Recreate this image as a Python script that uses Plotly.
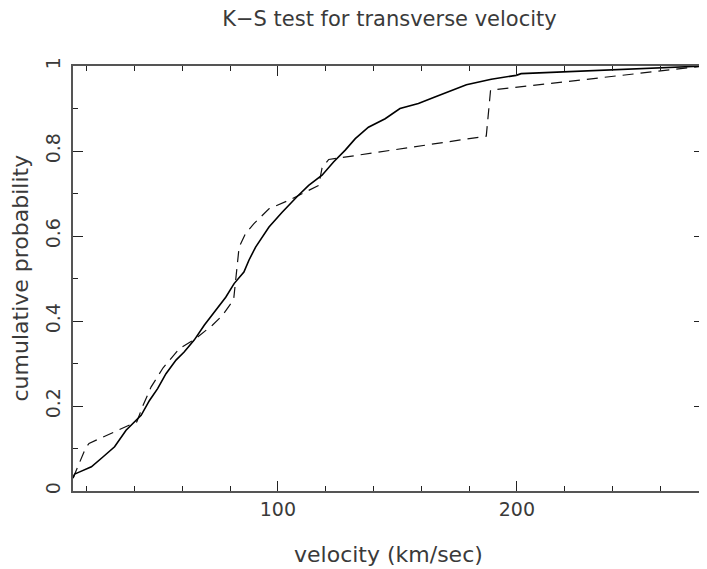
import plotly.graph_objects as go

# Solid curve (empirical cumulative distribution)
solid_v = [14.3, 15.0, 17.1, 22.0, 26.8, 31.7, 36.5, 42.8, 46.3, 49.7, 53.2, 57.4, 60.8,
           65.0, 69.2, 74.0, 78.2, 81.7, 85.8, 87.9, 90.7, 96.3, 101.8, 108.1, 112.9, 118.5,
           123.3, 128.2, 132.4, 137.9, 144.9, 151.1, 158.8, 165.7, 172.6, 178.9, 189.3,
           199.7, 201.8, 219.9, 239.3, 264.3, 278.3]
solid_p = [0.031, 0.040, 0.045, 0.057, 0.080, 0.104, 0.143, 0.178, 0.213, 0.241, 0.276, 0.308, 0.327,
           0.355, 0.390, 0.425, 0.456, 0.488, 0.515, 0.543, 0.574, 0.621, 0.656, 0.693, 0.719, 0.743,
           0.774, 0.802, 0.829, 0.856, 0.876, 0.900, 0.912, 0.927, 0.943, 0.956, 0.969,
           0.978, 0.982, 0.986, 0.991, 0.996, 1.000]

# Dashed curve (comparison distribution)
dashed_v = [14.3, 19.5, 21.0, 38.0, 41.0, 43.5, 47.0, 52.0, 58.8, 65.7, 72.6, 76.8, 80.5,
            81.5, 83.8, 86.5, 90.0, 96.3, 104.6, 117.1, 118.5, 121.3, 187.2, 189.0, 278.3]
dashed_p = [0.030, 0.100, 0.112, 0.155, 0.163, 0.200, 0.245, 0.290, 0.335, 0.359, 0.390, 0.413, 0.440,
            0.450, 0.574, 0.606, 0.629, 0.664, 0.684, 0.719, 0.760, 0.780, 0.835, 0.943, 1.000]

x_range = [14.3, 278.3]
y_range = [0, 1]

fig = go.Figure()
fig.add_trace(go.Scatter(x=dashed_v, y=dashed_p, mode="lines",
                         line=dict(color="#111", width=1.2, dash="11px,7px")))
fig.add_trace(go.Scatter(x=solid_v, y=solid_p, mode="lines",
                         line=dict(color="#000", width=1.6)))

font_family = "DejaVu Sans"
txt_color = "#3a3a3a"

# page body has an 8px margin, so the figure is 8px smaller than the window
W, H = 699, 561
fig.update_layout(
    width=W, height=H,
    margin=dict(l=65, r=1, t=58, b=78),
    paper_bgcolor="white", plot_bgcolor="white",
    showlegend=False,
    font=dict(family=font_family, size=19, color=txt_color),
    title=dict(text="K\u2212S test for transverse velocity", x=(65 + W - 1) / 2 / W, xanchor="center",
               y=1 - 11 / H, yanchor="middle", yref="container",
               font=dict(family=font_family, size=21, color=txt_color)),
)

axis_common = dict(showgrid=False, zeroline=False, showline=True, linecolor="#555", linewidth=1.5,
                   mirror="ticks", ticks="inside", tickcolor="#222", tickwidth=1,
                   tickfont=dict(family=font_family, size=19, color=txt_color))

fig.update_xaxes(range=x_range, tick0=0, dtick=100, ticklen=10,
                 minor=dict(dtick=20, tick0=0, ticklen=5, ticks="inside", tickcolor="#222", tickwidth=1),
                 **axis_common)
fig.update_yaxes(range=y_range, tick0=0, dtick=0.2, ticklen=10, tickangle=-90, ticklabelstandoff=4,
                 minor=dict(dtick=0.1, tick0=0, ticklen=5, ticks="inside", tickcolor="#222", tickwidth=1),
                 **axis_common)

fig.add_annotation(text="velocity (km/sec)", xref="paper", yref="paper", x=0.5, y=0,
                   xanchor="center", yanchor="middle", yshift=-63, showarrow=False,
                   font=dict(family=font_family, size=22, color=txt_color))
fig.add_annotation(text="cumulative probability", xref="paper", yref="paper", x=0, y=0.5,
                   xanchor="center", yanchor="middle", xshift=-53, textangle=-90, showarrow=False,
                   font=dict(family=font_family, size=22, color=txt_color))

fig.write_html("out.html")
